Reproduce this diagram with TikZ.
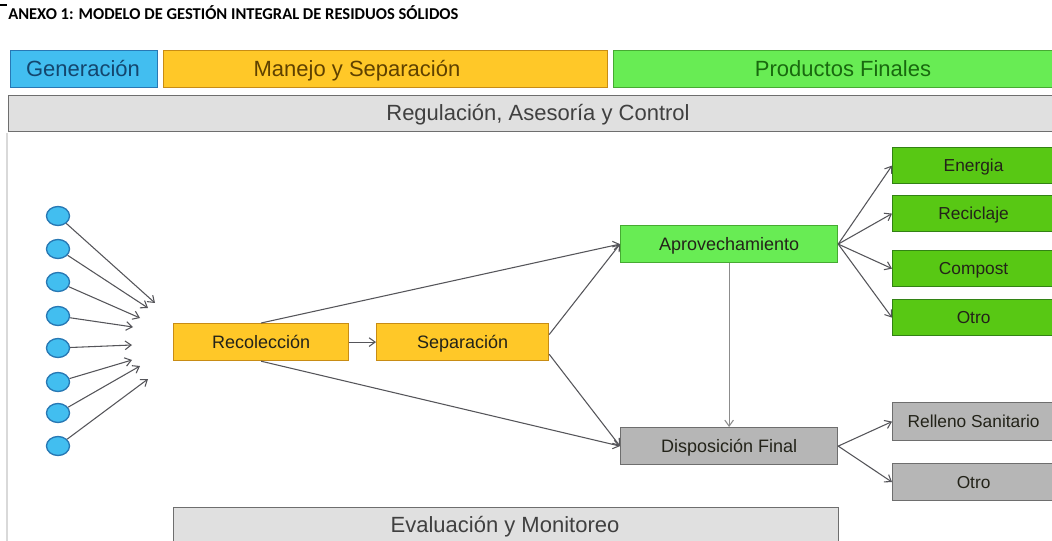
\documentclass[tikz,border=0pt]{standalone}
\usepackage{fontspec}
\setmainfont{Liberation Sans}
\newfontfamily\titlefont{Carlito}
\usetikzlibrary{arrows.meta,shapes.geometric}
\definecolor{genblue}{RGB}{66,190,240}
\definecolor{genblueD}{RGB}{40,120,180}
\definecolor{genT}{RGB}{20,70,110}
\definecolor{yel}{RGB}{255,200,40}
\definecolor{yelD}{RGB}{200,140,20}
\definecolor{yelT}{RGB}{95,65,0}
\definecolor{hgreen}{RGB}{104,236,84}
\definecolor{hgreenD}{RGB}{70,170,50}
\definecolor{hgreenT}{RGB}{25,105,15}
\definecolor{dgreen}{RGB}{88,200,20}
\definecolor{dgreenD}{RGB}{50,130,20}
\definecolor{lgray}{RGB}{224,224,224}
\definecolor{lgrayD}{RGB}{110,110,110}
\definecolor{mgray}{RGB}{182,182,182}
\definecolor{mgrayD}{RGB}{110,110,110}
\definecolor{linegray}{RGB}{85,85,90}
\definecolor{txtdark}{RGB}{35,35,25}
\begin{document}
\begin{tikzpicture}[x=0.75pt,y=-0.75pt,
  sz/.style 2 args={minimum width=#1*0.75pt, minimum height=#2*0.75pt},
  base/.style={rectangle, inner sep=0pt, anchor=north west, line width=0.9pt},
  hdr/.style={font=\fontsize{16.5}{18}\selectfont, text height=11.8pt, text depth=0pt, inner sep=0pt},
  mid/.style={font=\fontsize{13.5}{15}\selectfont, text=txtdark, text height=9.7pt, text depth=0pt},
  sml/.style={font=\fontsize{13}{15}\selectfont, text=txtdark, text height=9.3pt, text depth=0pt},
  dot/.style={ellipse, inner sep=0pt, minimum width=23*0.75pt, minimum height=19*0.75pt, fill=genblue, draw=genblueD, line width=1pt},
  conn/.style={draw=linegray, line width=0.8pt, -{Straight Barb[length=4.5pt,width=6.5pt]}}
]
\useasboundingbox (0,0) rectangle (1052,541);
\fill[white] (0,0) rectangle (1052,541);

% title
\draw[black, line width=0.8pt] (0,5) -- (7,5);
\node[anchor=west, inner sep=0pt, font=\titlefont\bfseries\fontsize{12.4}{14}\selectfont] (title) at (8,13) {ANEXO 1: MODELO DE GESTIÓN INTEGRAL DE RESIDUOS SÓLIDOS};
\draw[black!15, line width=0.8pt] (7,133) -- (7,541);

% header bands
\node[base, sz={147}{37}, fill=genblue, draw=genblueD] (gen) at (10,50) {};
\node[hdr, text=genT] (genT) at (83,69) {Generación};
\node[base, sz={444}{37}, fill=yel, draw=yelD] (man) at (163,50) {};
\node[hdr, text=yelT] (manT) at (357,69) {Manejo y Separación};
\node[base, sz={450}{37}, fill=hgreen, draw=hgreenD] (prod) at (613,50) {};
\node[hdr, text=hgreenT] (prodT) at (843,69) {Productos Finales};
\node[base, sz={1054}{36}, fill=lgray, draw=lgrayD] (reg) at (8,95) {};
\node[hdr, text=black!75] (regT) at (538,113) {Regulación, Asesoría y Control};

% generation dots
\foreach \i/\yy in {1/216,2/249,3/282,4/316,5/348,6/382,7/413,8/446}
  \node[dot] (c\i) at (58,\yy) {};
\coordinate (e1) at (155,303);
\coordinate (e2) at (148,308);
\coordinate (e3) at (140,318);
\coordinate (e4) at (133,327);
\coordinate (e5) at (132,345);
\coordinate (e6) at (132,360);
\coordinate (e7) at (140,366);
\coordinate (e8) at (148,379);
\foreach \i in {1,...,8} \draw[conn] (c\i) -- (e\i);

% middle boxes
\node[base, sz={175}{37}, fill=yel, draw=yelD, mid] (rec) at (173,323) {Recolección};
\node[base, sz={172}{37}, fill=yel, draw=yelD, mid] (sep) at (376,323) {Separación};
\node[base, sz={217}{37}, fill=hgreen, draw=hgreenD, mid] (apr) at (620,225) {Aprovechamiento};
\node[base, sz={217}{37}, fill=mgray, draw=mgrayD, mid] (dis) at (620,427) {Disposición Final};

% right boxes
\node[base, sz={162}{36}, fill=dgreen, draw=dgreenD, sml] (ene) at (892,147) {Energia};
\node[base, sz={162}{36}, fill=dgreen, draw=dgreenD, sml] (rci) at (892,195) {Reciclaje};
\node[base, sz={162}{36}, fill=dgreen, draw=dgreenD, sml] (com) at (892,250) {Compost};
\node[base, sz={162}{36}, fill=dgreen, draw=dgreenD, sml] (otr) at (892,299) {Otro};
\node[base, sz={162}{38}, fill=mgray, draw=mgrayD, sml] (rel) at (892,402) {Relleno Sanitario};
\node[base, sz={162}{37}, fill=mgray, draw=mgrayD, sml] (ot2) at (892,463) {Otro};

% bottom band
\node[base, sz={665}{45}, fill=lgray, draw=lgrayD] (eva) at (173,507) {};
\node[hdr, text=black!75] (evaT) at (505,525) {Evaluación y Monitoreo};

% connectors
\draw[conn] (rec) -- (sep);
\draw[conn] (rec.north) -- (apr.west);
\draw[conn] (rec.south) -- (dis.west);
\draw[conn] (sep.5) -- (apr.west);
\draw[conn] (sep.-8) -- (dis.west);
\draw[conn, draw=black!45] (apr.south) -- (dis.north);
\draw[conn] (apr.east) -- (ene.west);
\draw[conn] (apr.east) -- (rci.west);
\draw[conn] (apr.east) -- (com.west);
\draw[conn] (apr.east) -- (otr.west);
\draw[conn] (dis.east) -- (rel.west);
\draw[conn] (dis.east) -- (ot2.west);
\end{tikzpicture}
\end{document}
